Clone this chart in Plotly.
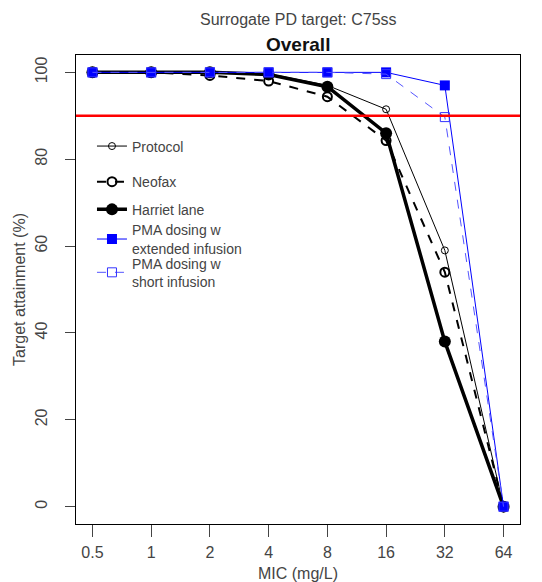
import plotly.graph_objects as go

mic_labels = ["0.5", "1", "2", "4", "8", "16", "32", "64"]
y_ticks = [0, 20, 40, 60, 80, 100]

protocol = [100, 100, 100, 99.7, 97, 91.5, 59, 0]
neofax = [100, 100, 99.3, 98, 94.4, 84.3, 54, 0]
harriet = [100, 100, 100, 99.5, 96.7, 86, 38, 0]
pma_ext = [100, 100, 100, 100, 100, 100, 97, 0]
pma_short = [100, 100, 100, 100, 100, 99.6, 89.7, 0]
target_line = 90

FONT = "Liberation Sans, Arial, Helvetica, sans-serif"

series = [
    dict(y=protocol, name="Protocol",
         line=dict(color="black", width=1),
         marker=dict(symbol="circle-open", size=7, color="black", line=dict(width=1))),
    dict(y=neofax, name="Neofax",
         line=dict(color="black", width=2, dash="dash"),
         marker=dict(symbol="circle-open", size=9, color="black", line=dict(width=2))),
    dict(y=harriet, name="Harriet lane",
         line=dict(color="black", width=3.5),
         marker=dict(symbol="circle", size=12, color="black")),
    dict(y=pma_ext, name="PMA dosing w<br>extended infusion",
         line=dict(color="#0000ff", width=1),
         marker=dict(symbol="square", size=10, color="#0000ff")),
    dict(y=pma_short, name="PMA dosing w<br>short infusion",
         line=dict(color="#5555ff", width=1, dash="dash"),
         marker=dict(symbol="square-open", size=9, color="#3333ff", line=dict(width=1))),
]
legend_y = [0.805, 0.729, 0.670, 0.607, 0.536]

fig = go.Figure()
legend_layouts = {}
for i, s in enumerate(series):
    lname = "legend" if i == 0 else f"legend{i + 1}"
    fig.add_trace(go.Scatter(x=mic_labels, y=s["y"], mode="lines+markers", name=s["name"],
                             line=s["line"], marker=s["marker"], legend=lname))
    legend_layouts[lname] = dict(x=0.036, y=legend_y[i], xanchor="left", yanchor="middle",
                                 bgcolor="rgba(0,0,0,0)", font=dict(size=14, color="#444"),
                                 itemwidth=30)

fig.add_hline(y=target_line, line=dict(color="red", width=2.5), layer="above")

fig.add_annotation(text="Surrogate PD target: C75ss", x=0.5, y=1, xref="paper", yref="paper",
                   xanchor="center", yanchor="bottom", showarrow=False,
                   font=dict(family=FONT, size=16, color="#444"), yshift=25)
fig.add_annotation(text="<b>Overall</b>", x=0.5, y=1, xref="paper", yref="paper",
                   xanchor="center", yanchor="bottom", showarrow=False,
                   font=dict(family=FONT, size=19, color="#111"), yshift=-2)

# the page body has an 8px default margin, so the figure is sized to fit the window
fig.update_layout(
    width=534, height=574,
    margin=dict(l=68, r=22, t=47, b=58, autoexpand=False),
    paper_bgcolor="white", plot_bgcolor="white",
    font=dict(family=FONT, size=14, color="#444"),
    showlegend=True,
    **legend_layouts,
)
fig.update_xaxes(
    type="category", range=[-0.28, 7.28], automargin=False,
    tickvals=mic_labels, ticktext=mic_labels,
    showline=True, linecolor="black", linewidth=1, mirror=True,
    ticks="outside", ticklen=12, tickcolor="#444", showgrid=False, zeroline=False,
    ticklabelstandoff=2,
    title=dict(text="MIC (mg/L)", font=dict(size=16), standoff=12),
    tickfont=dict(size=16),
)
fig.update_yaxes(
    range=[-4, 104], tickvals=y_ticks, automargin=False,
    showline=True, linecolor="black", linewidth=1, mirror=True,
    ticks="outside", ticklen=10, tickcolor="#444", showgrid=False, zeroline=False,
    tickangle=-90, ticklabelstandoff=12,
    title=dict(text="Target attainment (%)", font=dict(size=16), standoff=2),
    tickfont=dict(size=16),
)

fig.write_html("out.html")
